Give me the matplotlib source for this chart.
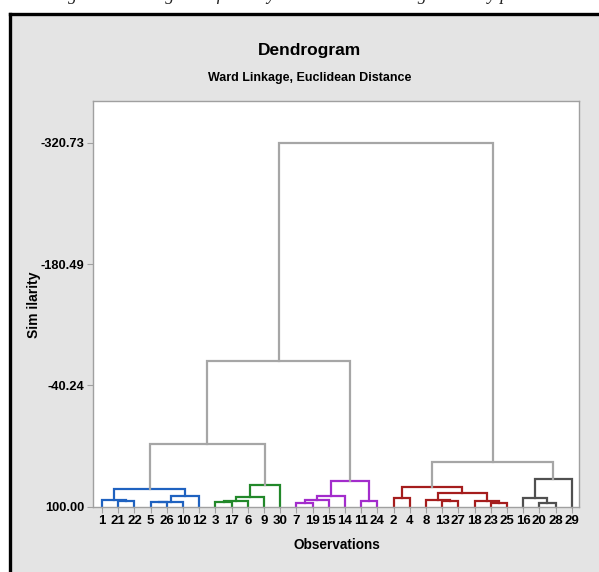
import matplotlib.pyplot as plt
from matplotlib.patches import Rectangle
from matplotlib.lines import Line2D

# leaf order along the x axis (observation numbers)
leaves = [1, 21, 22, 5, 26, 10, 12, 3, 17, 6, 9, 30, 7, 19, 15, 14, 11, 24,
          2, 4, 8, 13, 27, 18, 23, 25, 16, 20, 28, 29]

# merges: (name, left child, right child, similarity, colour group)
# int child = observation, str child = earlier merge
merges = [
    ("a", 21, 22, 93.4, "blue"),
    ("b", 1, "a", 92.3, "blue"),
    ("c", 5, 26, 95.0, "blue"),
    ("d", "c", 10, 94.4, "blue"),
    ("e", "d", 12, 87.6, "blue"),
    ("f", "b", "e", 79.9, "blue"),
    ("g", 3, 17, 94.6, "green"),
    ("h", "g", 6, 93.1, "green"),
    ("i", "h", 9, 89.1, "green"),
    ("j", "i", 30, 75.3, "green"),
    ("k", "f", "j", 27.5, "link"),
    ("l", 7, 19, 96.1, "purple"),
    ("m", "l", 15, 92.3, "purple"),
    ("n", "m", 14, 87.6, "purple"),
    ("o", 11, 24, 93.1, "purple"),
    ("p", "n", "o", 69.9, "purple"),
    ("q", "k", "p", -68.8, "link"),
    ("r", 2, 4, 90.3, "red"),
    ("s", 13, 27, 93.4, "red"),
    ("t", 8, "s", 92.3, "red"),
    ("u", 23, 25, 95.4, "red"),
    ("v", 18, "u", 93.4, "red"),
    ("w", "t", "v", 83.8, "red"),
    ("x", "r", "w", 77.6, "red"),
    ("y", 20, 28, 96.1, "dark"),
    ("z", 16, "y", 90.3, "dark"),
    ("aa", "z", 29, 67.6, "dark"),
    ("bb", "x", "aa", 48.0, "link"),
    ("cc", "q", "bb", -320.73, "link"),
]

ytick_vals = [100.0, -40.24, -180.49, -320.73]
ytick_labels = ["100.00", "-40.24", "-180.49", "-320.73"]

colors = {"blue": "#1f62c0", "green": "#22882a", "purple": "#a32ccc",
          "red": "#a51d1d", "dark": "#505050", "link": "#a6a6a6"}

sans = ["Liberation Sans", "DejaVu Sans"]

fig = plt.figure(figsize=(5.99, 5.72), dpi=100)
W, H = 599, 572

# grey panel with black border on top and left
fig.patches.append(Rectangle((10 / W, 0), 1, 1 - 14 / H, transform=fig.transFigure,
                             facecolor="#e4e4e4", edgecolor="none", zorder=-5))
fig.lines.append(Line2D([10 / W, 1], [1 - 14 / H, 1 - 14 / H], transform=fig.transFigure,
                        color="black", lw=2.4, zorder=-4))
fig.lines.append(Line2D([10 / W, 10 / W], [0, 1 - 14 / H], transform=fig.transFigure,
                        color="black", lw=2.4, zorder=-4))

# caption of the source page, cut off at the top edge
fig.text(0.5, 1 + 5 / H, "Figure: Dendrogram of weekly weather data during the study period",
         ha="center", va="center", fontsize=13, style="italic",
         family=["Liberation Serif", "DejaVu Serif"], color="#222222")

ax = fig.add_axes([93 / W, 1 - 506.7 / H, (579 - 93) / W, (506.7 - 101.3) / H])
ax.set_facecolor("white")

xpos = {obs: i for i, obs in enumerate(leaves)}
ypos = {obs: 100.0 for obs in leaves}
for name, a, b, h, grp in merges:
    xa, ya = xpos[a], ypos[a]
    xb, yb = xpos[b], ypos[b]
    ax.plot([xa, xa, xb, xb], [ya, h, h, yb], color=colors[grp], lw=1.6,
            solid_joinstyle="miter", clip_on=False)
    xpos[name] = (xa + xb) / 2
    ypos[name] = h

ax.set_xlim(-0.56, 29.45)
ax.set_ylim(100, -368.6)

ax.set_xticks(range(len(leaves)))
ax.set_xticklabels([str(v) for v in leaves], family=sans, fontweight="bold", fontsize=9.5)
ax.set_yticks(ytick_vals)
ax.set_yticklabels(ytick_labels, family=sans, fontweight="bold", fontsize=9.3)
ax.tick_params(axis="both", length=4, width=0.8, color="#a0a0a0", pad=2)

for s in ax.spines.values():
    s.set_color("#a0a0a0")
    s.set_linewidth(1.0)

fig.text(309 / W, 1 - 50 / H, "Dendrogram", ha="center", va="center",
         family=sans, fontweight="bold", fontsize=12.5)
fig.text(310 / W, 1 - 78 / H, "Ward Linkage, Euclidean Distance", ha="center", va="center",
         family=sans, fontweight="bold", fontsize=9)
fig.text(337 / W, 1 - 545 / H, "Observations", ha="center", va="center",
         family=sans, fontweight="bold", fontsize=9.8)
fig.text(34 / W, 1 - 305 / H, "Sim ilarity", ha="center", va="center", rotation=90,
         family=sans, fontweight="bold", fontsize=10)

fig.savefig("out.png", dpi=100)
